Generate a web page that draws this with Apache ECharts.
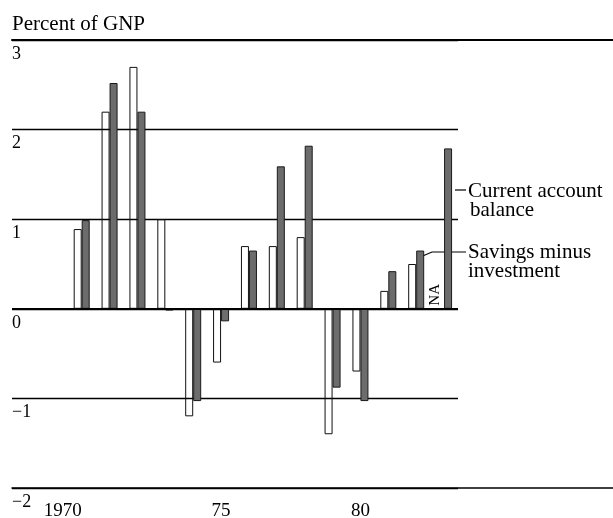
<!DOCTYPE html>
<html>
<head>
<meta charset="utf-8">
<script src="https://cdn.jsdelivr.net/npm/echarts@6/dist/echarts.min.js"></script>
<style>
    html, body { margin: 0; padding: 0; background: #fff; }
    #chart { width: 613px; height: 518px; }
</style>
</head>
<body>
<div id="chart"></div>
<script>
var years		= [1970, 1971, 1972, 1973, 1974, 1975, 1976, 1977, 1978, 1979, 1980, 1981, 1982, 1983];
var savings_minus_inv	= [0.89, 2.2, 2.7, 1.0, -1.2, -0.6, 0.7, 0.7, 0.8, -1.4, -0.7, 0.2, 0.5, null];
var current_account	= [0.99, 2.52, 2.2, -0.02, -1.03, -0.14, 0.65, 1.59, 1.82, -0.88, -1.03, 0.42, 0.65, 1.79];
var year_labels		= [1970, 1975, 1980];
var na_year		= 1983;

var serif = "'Liberation Serif', 'DejaVu Serif', serif";

function pairs(vals) {
    var out = [];
    for (var i = 0; i < years.length; i++) {
	out.push([years[i], vals[i]]);
    }
    return out;
}

var option = {
    animation: false,
    backgroundColor: '#fff',
    textStyle: { fontFamily: serif, color: '#000' },
    title: {
	text: 'Percent of GNP',
	left: 7,
	top: 9,
	textStyle: { fontFamily: serif, fontWeight: 'normal', fontSize: 21, color: '#000' }
    },
    grid: [
	{ left: 12, right: 0, top: 40, bottom: 30, containLabel: false, outerBoundsMode: 'none' },	// full width rules
	{ left: 12, right: 155, top: 40, bottom: 30, containLabel: false, outerBoundsMode: 'none' }	// bars
    ],
    xAxis: [
	{
	    gridIndex: 0, type: 'value', position: 'top', min: 0, max: 1,
	    axisLine: { show: true, onZero: false, lineStyle: { color: '#000', width: 2 } },
	    axisTick: { show: false }, axisLabel: { show: false }, splitLine: { show: false }
	},
	{
	    gridIndex: 0, type: 'value', position: 'bottom', min: 0, max: 1,
	    axisLine: { show: true, onZero: false, lineStyle: { color: '#000', width: 1.5 } },
	    axisTick: { show: false }, axisLabel: { show: false }, splitLine: { show: false }
	},
	{
	    gridIndex: 1, type: 'value', position: 'bottom',
	    min: years[0] - 2.5, max: years[years.length - 1] + 0.5,
	    axisLine: { show: false, onZero: false },
	    axisTick: { show: false },
	    splitLine: { show: false },
	    axisLabel: {
		customValues: year_labels,
		margin: 14,
		fontSize: 19,
		color: '#000',
		fontFamily: serif,
		formatter: function (v) {
		    if (v == years[0]) return '{first|' + v + '}';
		    return String(v).slice(2);
		},
		rich: {
		    first: { fontSize: 19, fontFamily: serif, color: '#000', padding: [0, 38, 0, 0] }
		}
	    }
	}
    ],
    yAxis: [
	{
	    gridIndex: 0, type: 'value', min: -2, max: 3, show: false
	},
	{
	    gridIndex: 1, type: 'value', min: -2, max: 3, interval: 1,
	    axisLine: { show: false },
	    axisTick: { show: false },
	    splitLine: { show: true, lineStyle: { color: '#000', width: 1.3 } },
	    axisLabel: {
		inside: true,
		margin: 0,
		align: 'left',
		verticalAlign: 'top',
		padding: [5, 0, 0, 0],
		fontSize: 18,
		color: '#000',
		fontFamily: serif,
		formatter: function (v) {
		    return v < 0 ? '\u2212' + Math.abs(v) : String(v);
		}
	    }
	}
    ],
    series: [
	{
	    name: 'Savings minus investment',
	    type: 'bar',
	    xAxisIndex: 2,
	    yAxisIndex: 1,
	    barWidth: 8,
	    barGap: '0%',
	    itemStyle: { color: 'rgba(255,255,255,0)', borderColor: '#111', borderWidth: 1 },
	    data: pairs(savings_minus_inv),
	    markLine: {
		silent: true,
		symbol: 'none',
		label: { show: false },
		lineStyle: { color: '#000', width: 2, type: 'solid' },
		data: [{ yAxis: 0 }]
	    },
	    markPoint: {
		silent: true,
		symbol: 'circle',
		symbolSize: 0,
		data: [{
		    coord: [na_year, 0],
		    label: {
			show: true,
			formatter: 'NA',
			rotate: 90,
			offset: [14, -5],	// offset is in the rotated frame
			fontSize: 15,
			fontFamily: serif,
			color: '#000'
		    }
		}]
	    }
	},
	{
	    name: 'Current account balance',
	    type: 'bar',
	    xAxisIndex: 2,
	    yAxisIndex: 1,
	    barWidth: 8,
	    barGap: '0%',
	    itemStyle: { color: '#6c6c6c', borderColor: '#1a1a1a', borderWidth: 1 },
	    data: pairs(current_account)
	}
    ],
    graphic: [
	{ type: 'line', shape: { x1: 455, y1: 190, x2: 466, y2: 190 }, style: { stroke: '#000', lineWidth: 1.2 } },
	{ type: 'text', x: 468, y: 191, style: { text: 'Current account', font: '21px ' + serif, fill: '#000', textVerticalAlign: 'middle' } },
	{ type: 'text', x: 470, y: 210, style: { text: 'balance', font: '21px ' + serif, fill: '#000', textVerticalAlign: 'middle' } },
	{ type: 'polyline', shape: { points: [[418, 258], [432, 252], [466, 252]] }, style: { stroke: '#000', lineWidth: 1.2, fill: null } },
	{ type: 'text', x: 468, y: 252, style: { text: 'Savings minus', font: '21px ' + serif, fill: '#000', textVerticalAlign: 'middle' } },
	{ type: 'text', x: 468, y: 271, style: { text: 'investment', font: '21px ' + serif, fill: '#000', textVerticalAlign: 'middle' } }
    ]
};

var chart = echarts.init(document.getElementById('chart'), null, { renderer: 'canvas' });
chart.setOption(option);
</script>
</body>
</html>
